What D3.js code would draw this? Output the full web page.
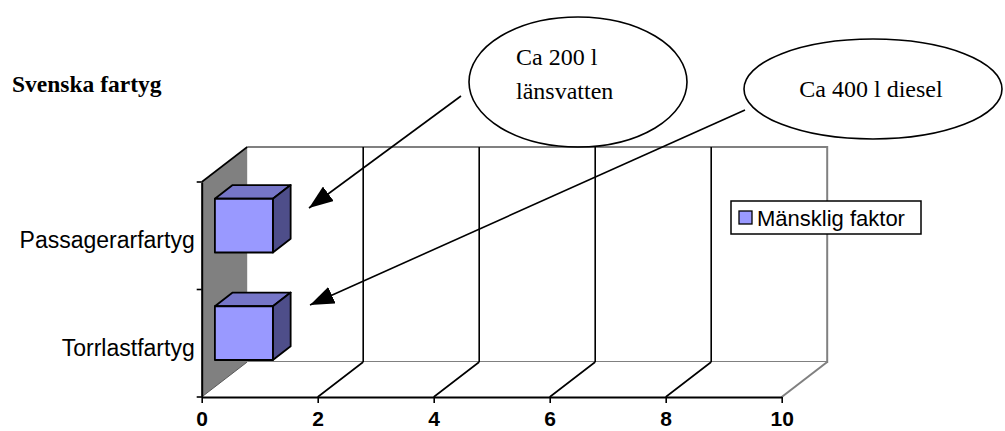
<!DOCTYPE html>
<html>
<head>
<meta charset="utf-8">
<script src="https://cdn.jsdelivr.net/npm/d3@7"></script>
<style>
  html, body { margin: 0; padding: 0; background: #fff; }
  svg { display: block; }
</style>
</head>
<body>
<svg id="chart" width="1005" height="431"></svg>
<script>
// ---- data ----
const categories = ["Passagerarfartyg", "Torrlastfartyg"];
const seriesName = "Mänsklig faktor";
const seriesValues = [1, 1];
const xTickValues = [0, 2, 4, 6, 8, 10];
const chartTitle = "Svenska fartyg";
const calloutTexts = [["Ca 200 l", "länsvatten"], ["Ca 400 l diesel"]];

// ---- layout ----
const W = 1005, H = 431;
const svg = d3.select("#chart");
const DX = 45.5, DY = -35;           // full depth offset of the 3D box
const barDepth = [0.29, 0.68];       // bar front/back as fraction of depth

const x = d3.scaleLinear().domain([0, 10]).range([201.7, 781.7]);
const y = d3.scaleBand().domain(categories).range([182, 397]).padding(0);
const yTop = y.range()[0], yBot = y.range()[1];

const P = (v, yy, d) => [x(v) + d * DX, yy + d * DY];
const poly = pts => "M" + pts.map(p => p.join(",")).join("L") + "Z";
const seg = (a, b) => "M" + a.join(",") + "L" + b.join(",");

const colFront = "#9999ff", colTop = "#7676c8", colSide = "#4e4e8a";
const [xMin, xMax] = x.domain();

// back wall
svg.append("path")
  .attr("d", poly([P(xMin, yTop, 1), P(xMax, yTop, 1), P(xMax, yBot, 1), P(xMin, yBot, 1)]))
  .attr("fill", "#fff").attr("stroke", "none");
svg.append("path")
  .attr("d", "M" + P(xMin, yTop, 1).join(",") + "L" + P(xMax, yTop, 1).join(",") +
             "L" + P(xMax, yBot, 1).join(",") + "L" + P(xMin, yBot, 1).join(","))
  .attr("fill", "none").attr("stroke", "#808080").attr("stroke-width", 2);

// floor
svg.append("path")
  .attr("d", poly([P(xMin, yBot, 0), P(xMax, yBot, 0), P(xMax, yBot, 1), P(xMin, yBot, 1)]))
  .attr("fill", "#fff").attr("stroke", "none");

// gridlines on back wall and floor
const inner = xTickValues.filter(v => v > xMin && v < xMax);
svg.append("g").selectAll("path").data(inner).join("path")
  .attr("d", v => seg(P(v, yTop, 1), P(v, yBot, 1)) + seg(P(v, yBot, 1), P(v, yBot, 0)))
  .attr("fill", "none").attr("stroke", "#000").attr("stroke-width", 1.6);
svg.append("path")
  .attr("d", seg(P(xMax, yBot, 1), P(xMax, yBot, 0)))
  .attr("stroke", "#808080").attr("stroke-width", 2).attr("fill", "none");

// left side wall
svg.append("path")
  .attr("d", poly([P(xMin, yTop, 0), P(xMin, yTop, 1), P(xMin, yBot, 1), P(xMin, yBot, 0)]))
  .attr("fill", "#808080").attr("stroke", "none");
svg.append("path")
  .attr("d", seg(P(xMin, yBot, 0), P(xMin, yBot, 1)))
  .attr("stroke", "#5a5a5a").attr("stroke-width", 1).attr("fill", "none");
svg.append("path")
  .attr("d", seg(P(xMin, yTop, 0), P(xMin, yTop, 1)))
  .attr("stroke", "#000").attr("stroke-width", 1.6).attr("fill", "none");

// bars
const rows = categories.map((c, i) => ({ c, v: seriesValues[i] }));
const bw = y.bandwidth();
const bars = svg.append("g").selectAll("g").data(rows).join("g");
bars.each(function(d) {
  const g = d3.select(this);
  const t = y(d.c) + bw * 0.25, b = y(d.c) + bw * 0.75;
  const [f, k] = barDepth;
  g.append("path")
    .attr("d", poly([P(0, t, f), P(d.v, t, f), P(d.v, t, k), P(0, t, k)]))
    .attr("fill", colTop);
  g.append("path")
    .attr("d", poly([P(d.v, t, f), P(d.v, t, k), P(d.v, b, k), P(d.v, b, f)]))
    .attr("fill", colSide);
  g.append("path")
    .attr("d", poly([P(0, t, f), P(d.v, t, f), P(d.v, b, f), P(0, b, f)]))
    .attr("fill", colFront);
  g.selectAll("path").attr("stroke", "#000").attr("stroke-width", 1.8).attr("stroke-linejoin", "round");
});

// value axis (front edge of floor)
const xAxis = d3.axisBottom(x).tickValues(xTickValues).tickSize(6).tickSizeOuter(0).tickPadding(8);
const gx = svg.append("g").attr("transform", `translate(0,${yBot})`).call(xAxis);
gx.select(".domain").attr("stroke", "#000").attr("stroke-width", 2);
gx.selectAll(".tick line").attr("stroke", "#000").attr("stroke-width", 1.6);
gx.selectAll(".tick text")
  .attr("fill", "#000")
  .style("font-family", "'Liberation Sans', Arial, sans-serif")
  .style("font-size", "21px").style("font-weight", "bold");

// category axis (front edge of the side wall)
const yAxis = d3.axisLeft(y).tickSize(0).tickPadding(7);
const gy = svg.append("g").attr("transform", `translate(${x(xMin)},0)`).call(yAxis);
gy.select(".domain").attr("stroke", "#000").attr("stroke-width", 2);
gy.selectAll(".tick text")
  .attr("fill", "#000")
  .attr("dy", "0.55em")
  .style("font-family", "'Liberation Sans', Arial, sans-serif")
  .style("font-size", "23px");
const bounds = categories.map(c => y(c)).concat([yBot]);
gy.append("g").selectAll("line").data(bounds).join("line")
  .attr("x1", -5).attr("x2", 0).attr("y1", d => d).attr("y2", d => d)
  .attr("stroke", "#000").attr("stroke-width", 1.6);

// title
svg.append("text")
  .attr("x", 12).attr("y", 92)
  .style("font-family", "'Liberation Serif', 'Times New Roman', serif")
  .style("font-size", "23.5px").style("font-weight", "bold")
  .text(chartTitle);

// legend
const lg = svg.append("g").attr("transform", "translate(731,201)");
lg.append("rect").attr("width", 190).attr("height", 33)
  .attr("fill", "#fff").attr("stroke", "#000").attr("stroke-width", 1.5);
lg.append("rect").attr("x", 8).attr("y", 10).attr("width", 13).attr("height", 13)
  .attr("fill", colFront).attr("stroke", "#000").attr("stroke-width", 1.3);
lg.append("text").attr("x", 26).attr("y", 25)
  .style("font-family", "'Liberation Sans', Arial, sans-serif")
  .style("font-size", "22px")
  .text(seriesName);

// callouts
const defs = svg.append("defs");
defs.append("marker").attr("id", "ah")
  .attr("viewBox", "0 0 24 18").attr("refX", 24).attr("refY", 9)
  .attr("markerWidth", 24).attr("markerHeight", 18)
  .attr("markerUnits", "userSpaceOnUse").attr("orient", "auto")
  .append("path").attr("d", "M0,0L24,9L0,18Z").attr("fill", "#000");

const serif = "'Liberation Serif', 'Times New Roman', serif";
const c1 = svg.append("g");
c1.append("ellipse").attr("cx", 578).attr("cy", 82).attr("rx", 109).attr("ry", 65)
  .attr("fill", "none").attr("stroke", "#000").attr("stroke-width", 1.6);
c1.selectAll("text").data(calloutTexts[0]).join("text")
  .attr("x", 516).attr("y", (d, i) => 65 + i * 34)
  .style("font-family", serif).style("font-size", "24px")
  .text(d => d);
c1.append("line").attr("x1", 461).attr("y1", 96).attr("x2", 309).attr("y2", 208)
  .attr("stroke", "#000").attr("stroke-width", 1.6).attr("marker-end", "url(#ah)");

const c2 = svg.append("g");
c2.append("ellipse").attr("cx", 873).attr("cy", 89).attr("rx", 129).attr("ry", 50)
  .attr("fill", "none").attr("stroke", "#000").attr("stroke-width", 1.6);
c2.append("text").attr("x", 871).attr("y", 97).attr("text-anchor", "middle")
  .style("font-family", serif).style("font-size", "24px")
  .text(calloutTexts[1][0]);
c2.append("line").attr("x1", 745).attr("y1", 110).attr("x2", 310).attr("y2", 305)
  .attr("stroke", "#000").attr("stroke-width", 1.6).attr("marker-end", "url(#ah)");
</script>
</body>
</html>
